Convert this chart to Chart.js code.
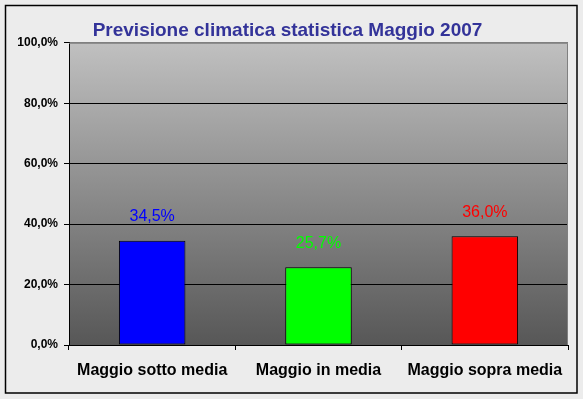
<!DOCTYPE html>
<html><head><meta charset="utf-8">
<script src="https://cdn.jsdelivr.net/npm/chart.js@4"></script>
<style>html,body{margin:0;padding:0;background:#ececec;}#wrap{width:583px;height:399px;}</style>
</head><body><div id="wrap"><canvas id="c" width="583" height="399"></canvas></div>
<script>
const categories = ["Maggio sotto media", "Maggio in media", "Maggio sopra media"];
const values = [34.5, 25.7, 36.0];
const valueLabels = ["34,5%", "25,7%", "36,0%"];
const barColors = ["#0000FF", "#00FF00", "#FF0000"];
const yTicks = [0, 20, 40, 60, 80, 100];
const titleText = "Previsione climatica statistica Maggio 2007";

const FONT = "Arial, 'Liberation Sans', sans-serif";

const framePlugin = {
  id: 'frame',
  beforeDraw(chart) {
    const ctx = chart.ctx;
    ctx.save();
    ctx.fillStyle = '#ececec';
    ctx.fillRect(0, 0, chart.width, chart.height);
    ctx.strokeStyle = '#000';
    ctx.lineWidth = 1.5;
    ctx.strokeRect(5.5, 5.5, 571.5, 387.5);
    const a = chart.chartArea;
    const g = ctx.createLinearGradient(0, a.top, 0, a.bottom);
    g.addColorStop(0, '#c0c0c0');
    g.addColorStop(1, '#575757');
    ctx.fillStyle = g;
    ctx.fillRect(a.left, a.top, a.right - a.left, a.bottom - a.top);
    ctx.restore();
  },
  afterDatasetsDraw(chart) {
    const ctx = chart.ctx;
    const a = chart.chartArea;
    ctx.save();
    ctx.strokeStyle = '#808080';
    ctx.lineWidth = 1;
    ctx.beginPath();
    ctx.moveTo(a.left, a.top + 0.5);
    ctx.lineTo(a.right - 0.5, a.top + 0.5);
    ctx.lineTo(a.right - 0.5, a.bottom);
    ctx.stroke();
    const meta = chart.getDatasetMeta(0);
    ctx.font = "16px " + FONT;
    ctx.textAlign = 'center';
    ctx.textBaseline = 'middle';
    meta.data.forEach((bar, i) => {
      ctx.fillStyle = barColors[i];
      ctx.fillText(valueLabels[i], bar.x, bar.y - 24);
    });
    ctx.restore();
  }
};

new Chart(document.getElementById('c'), {
  type: 'bar',
  data: {
    labels: categories,
    datasets: [{
      data: values,
      backgroundColor: barColors,
      borderColor: '#000',
      borderWidth: 1,
      borderSkipped: false,
      categoryPercentage: 1,
      barPercentage: 0.4
    }]
  },
  options: {
    responsive: false,
    animation: false,
    layout: { padding: { left: 7, right: 15, top: 0, bottom: 0 } },
    plugins: {
      legend: { display: false },
      tooltip: { enabled: false },
      title: {
        display: true,
        text: titleText,
        color: '#333399',
        font: { family: FONT, size: 19, weight: 'bold' },
        padding: { top: 19, bottom: 1 }
      }
    },
    scales: {
      x: {
        grid: { display: true, drawOnChartArea: false, drawTicks: true, tickLength: 5, color: '#000', offset: true },
        border: { color: '#000', width: 1 },
        ticks: { color: '#000', font: { family: FONT, size: 16, weight: 'bold' }, padding: 11, maxRotation: 0 },
        afterFit(s) { s.height = 54; }
      },
      y: {
        min: 0, max: 100,
        afterBuildTicks(s) { s.ticks = yTicks.map(v => ({ value: v })); },
        grid: {
          color: (c) => c.tick && c.tick.value === 100 ? '#808080' : '#000',
          tickColor: '#000',
          tickLength: 5,
          drawTicks: true
        },
        border: { color: '#000', width: 1 },
        ticks: {
          color: '#000',
          font: { family: FONT, size: 12, weight: 'bold' },
          padding: 6,
          callback: (v) => v.toFixed(1).replace('.', ',') + '%'
        },
        afterFit(s) { s.width = 62; }
      }
    }
  },
  plugins: [framePlugin]
});
</script></body></html>
